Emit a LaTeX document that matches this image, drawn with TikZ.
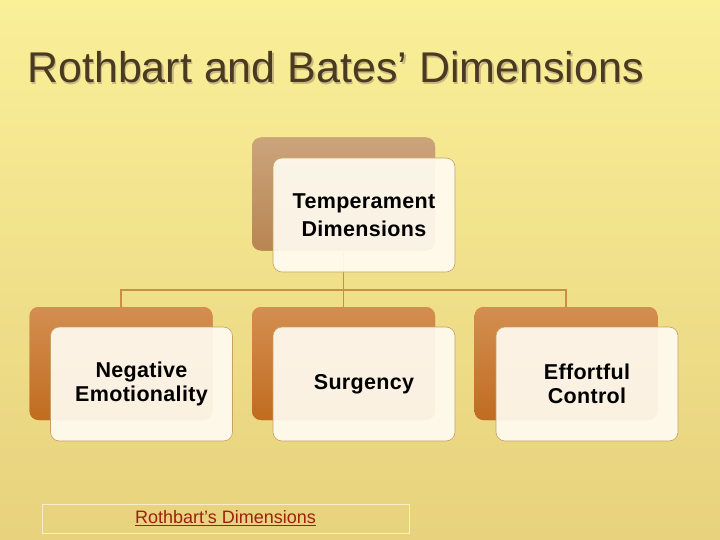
\documentclass[tikz,border=0pt]{standalone}
\usepackage{fontspec}
\setmainfont{Liberation Sans}
\newfontfamily\boxfont[LetterSpace=1.5]{Liberation Sans}
\begin{document}
\begin{tikzpicture}[x=1pt,y=-1pt,
  backbox/.style={rectangle,rounded corners=9pt,minimum width=183pt,minimum height=113pt,inner sep=0pt,
    top color=orTop,bottom color=orBot,draw=none},
  backtop/.style={backbox,top color=brTop,bottom color=brBot},
  frontbox/.style={rectangle,rounded corners=9pt,minimum width=182pt,minimum height=114pt,inner sep=0pt,
    fill=cream,fill opacity=0.93,text opacity=1,draw=edge,line width=0.6pt,align=center,
    font=\boxfont\bfseries\fontsize{21.5}{24}\selectfont},
  link/.style={draw=linkc,line width=1.2pt}]
\definecolor{bgA}{HTML}{FFF8A0}
\definecolor{bgB}{HTML}{E8D27E}
\definecolor{orTop}{HTML}{D48E50}
\definecolor{orBot}{HTML}{C06C20}
\definecolor{brTop}{HTML}{CBA47C}
\definecolor{brBot}{HTML}{B88552}
\definecolor{cream}{HTML}{FFFBF0}
\definecolor{edge}{HTML}{C8A060}
\definecolor{linkc}{HTML}{C98E48}
\definecolor{titlec}{HTML}{4A3A22}
\definecolor{shadc}{HTML}{C8B880}
\definecolor{capc}{HTML}{A0200E}
\useasboundingbox (0,0) rectangle (720,540);
\shade[left color=bgA,right color=bgB,shading angle=0] (0,0) rectangle (720,540);
\shade[top color=bgA!60!bgB,bottom color=bgB,opacity=0.5] (0,0) rectangle (720,540);
% title (with its shadow in the same node)
\node (title)[anchor=base west,inner sep=0pt,font=\fontsize{43}{50}\selectfont] at (27,83)
  {\makebox[0pt][l]{\hspace{1.5pt}\raisebox{-1.5pt}{\textcolor{shadc}{Rothbart and Bates’ Dimensions}}}\textcolor{titlec}{Rothbart and Bates’ Dimensions}};
% connectors coordinate
\coordinate (bus) at (0,290);
% back boxes
\node (tback)[backtop] at (343.5,194) {};
\node (lback)[backbox] at (121,363.5) {};
\node (mback)[backbox] at (343.5,363.5) {};
\node (rback)[backbox] at (566,363.5) {};
% links
\draw[link] (tback.center) -- (tback.center |- bus) -| (lback.north);
\draw[link] (tback.center |- bus) -- (mback.north);
\draw[link] (tback.center |- bus) -| (rback.north);
% redraw back boxes over the links
\node[backtop] at (tback) {};
\node[backbox] at (lback) {};
\node[backbox] at (mback) {};
\node[backbox] at (rback) {};
% front boxes
\node (top)[frontbox,font=\boxfont\bfseries\fontsize{21.5}{28}\selectfont] at (364,215) {Temperament\\Dimensions};
\node (neg)[frontbox] at (141.5,384) {Negative\\Emotionality};
\node (sur)[frontbox] at (364,384) {Surgency};
\node (eff)[frontbox] at (587,384) {Effortful\\Control};
% caption
\node (cap)[draw=white!60!bgB,line width=0.6pt,minimum width=367pt,minimum height=29pt,inner sep=0pt,
  text=capc,font=\fontsize{18}{21}\selectfont] at (225.5,518.5) {\underline{Rothbart’s Dimensions}};
\end{tikzpicture}
\end{document}
